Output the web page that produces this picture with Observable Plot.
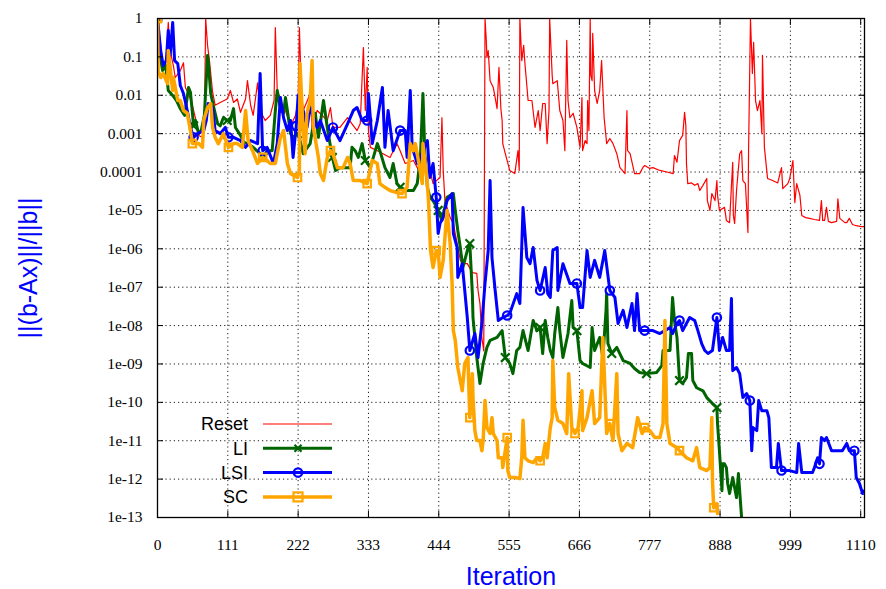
<!DOCTYPE html>
<html><head><meta charset="utf-8">
<script src="https://cdn.jsdelivr.net/npm/d3@7"></script>
<script src="https://cdn.jsdelivr.net/npm/@observablehq/plot@0.6"></script>
<style>body{margin:0;background:#fff;} #chart{width:886px;height:589px;}</style>
</head><body><div id="chart"></div>
<script>
const xTicks = [0,111,222,333,444,555,666,777,888,999,1110];
const xTickLabels = ["0","111","222","333","444","555","666","777","888","999","1110"];
const yTicks = [1,0.1,0.01,0.001,0.0001,1e-5,1e-6,1e-7,1e-8,1e-9,1e-10,1e-11,1e-12,1e-13];
const yTickLabels = ["1","0.1","0.01","0.001","0.0001","1e-05","1e-06","1e-07","1e-08","1e-09","1e-10","1e-11","1e-12","1e-13"];
const seriesNames = ["Reset","LI","LSI","SC"];
const xLabel = "Iteration";
const yLabel = "||(b-Ax)||/||b||";

// [iteration, residual]
const resetPts = [[0,1],[5,0.2],[9,0.044],[14,0.11],[17,0.79],[20,0.146],[25,0.06],[28,0.029],[36,0.044],[41,0.07],[44,0.016],[49,0.011],[55,0.0055],[60,0.0025],[65,0.0009],[71,0.0008],[74,0.0012],[76,1],[79,0.2],[82,0.08],[87,0.012],[91,0.0055],[99,0.0065],[110,0.008],[115,0.0133],[120,0.0065],[126,0.008],[131,0.0036],[139,0.008],[142,0.024],[147,0.0055],[151,0.003],[158,0.021],[162,0.004],[170,0.0022],[178,0.003],[184,0.0073],[186,0.58],[189,0.0133],[194,0.0036],[202,0.004],[210,0.0016],[218,0.003],[222,0.0073],[224,0.58],[227,0.0133],[230,0.004],[241,0.011],[244,0.00145],[252,0.004],[268,0.0022],[273,0.0048],[277,0.00145],[288,0.00145],[300,0.0026],[307,0.0018],[315,0.0012],[320,0.0018],[325,0.175],[328,0.004],[331,0.053],[333,0.0012],[336,0.00044],[347,0.00036],[356,0.0003],[367,0.00024],[378,0.00055],[383,0.00036],[391,0.000167],[404,0.0002],[415,9.1e-5],[426,0.00024],[430,0.00011],[435,5e-5],[446,7.2e-5],[449,0.0026],[451,0.00011],[454,1.5e-5],[457,1.2e-5],[462,6.5e-6],[467,4.6e-6],[473,1.37e-6],[478,5e-7],[482,4.1e-7],[489,4.1e-7],[497,2.4e-7],[504,2.3e-7],[506,8.2e-8],[509,3.75e-8],[512,4.9e-9],[515,2.2e-9],[517,1],[519,0.27],[520,0.096],[522,0.146],[525,0.024],[530,0.016],[533,0.0087],[536,0.0045],[539,0.053],[542,0.0045],[544,0.0022],[545,0.00055],[549,0.0003],[556,0.00011],[564,9.1e-5],[569,0.00036],[571,0.00011],[572,1],[575,0.08],[578,0.2],[580,0.067],[585,0.0073],[591,0.0073],[596,0.00145],[601,0.004],[604,0.0012],[608,0.0061],[612,0.0061],[615,0.00055],[618,0.004],[619,1],[623,0.033],[624,0.02],[631,0.024],[635,0.004],[640,0.0022],[643,0.00036],[646,0.27],[648,0.0073],[651,0.0026],[656,0.0034],[662,0.00145],[667,0.00044],[670,0.0087],[671,0.00036],[675,0.00066],[678,0.00055],[679,0.0073],[681,0.0012],[683,1],[684,0.033],[686,0.024],[687,0.41],[690,0.0133],[694,0.0061],[698,0.0133],[701,0.08],[705,0.0026],[709,0.00055],[714,0.00075],[719,0.00055],[725,0.0003],[730,0.00013],[738,9.1e-5],[741,0.004],[742,0.00036],[746,0.0003],[753,9.1e-5],[761,9.1e-5],[766,0.00013],[769,0.000148],[777,0.000124],[782,0.00013],[793,0.00011],[804,0.0001],[814,9.1e-5],[816,0.00027],[820,0.00018],[824,0.00066],[829,0.0009],[832,0.0036],[834,0.0016],[835,0.000167],[837,5e-5],[843,5.2e-5],[848,4.5e-5],[853,5e-5],[856,3.3e-5],[861,4.5e-5],[867,6.8e-5],[868,1.8e-5],[872,1e-5],[875,2.75e-5],[880,1.8e-5],[883,6e-5],[884,2.5e-5],[887,1e-5],[895,1.2e-5],[898,5.5e-6],[903,4.8e-6],[906,4.5e-5],[908,0.00018],[909,7.4e-6],[911,4.6e-6],[914,3.3e-5],[916,8.1e-5],[919,0.0003],[922,0.00036],[924,6e-5],[928,5e-5],[932,2.65e-6],[933,0.00036],[936,1],[939,0.037],[941,0.24],[944,0.0073],[947,0.004],[951,0.0073],[954,0.001],[955,0.109],[958,0.00044],[963,6.8e-5],[971,6e-5],[979,5.2e-5],[985,0.00013],[987,3.7e-5],[995,5e-5],[998,6.8e-5],[1003,0.0002],[1006,1.6e-5],[1009,5e-5],[1014,2.5e-5],[1017,7.4e-6],[1023,6.5e-6],[1029,6.2e-6],[1037,5.8e-6],[1045,5.5e-6],[1048,1.8e-5],[1050,5.5e-6],[1053,5.5e-6],[1056,1.2e-5],[1059,5.2e-6],[1064,4.8e-6],[1072,5.2e-6],[1074,2e-5],[1077,6.2e-6],[1085,4.8e-6],[1088,4.8e-6],[1092,6.2e-6],[1097,4.3e-6],[1103,4e-6],[1111,3.8e-6],[1116,3.8e-6]];

const liPts = [[0,1],[3,0.146],[8,0.044],[13,0.06],[17,0.0133],[24,0.0099],[30,0.0073],[36,0.0045],[43,0.003],[49,0.016],[52,0.012],[57,0.0016],[60,0.0022],[65,0.001],[69,0.0012],[74,0.003],[79,0.109],[80,0.08],[84,0.0111],[88,0.0055],[95,0.0018],[99,0.0016],[104,0.0026],[110,0.0022],[115,0.0022],[120,0.0045],[123,0.00145],[131,0.0009],[136,0.0006],[142,0.00055],[151,0.00044],[162,0.0003],[167,0.00024],[173,0.00036],[181,0.00036],[186,0.004],[189,0.0133],[194,0.0048],[199,0.0034],[202,0.0087],[205,0.004],[210,0.001],[214,0.0008],[221,0.001],[225,0.00066],[230,0.0003],[233,0.00036],[241,0.00055],[249,0.0034],[254,0.0008],[262,0.0073],[268,0.00145],[276,0.00024],[281,0.00011],[288,0.00013],[304,0.00013],[307,0.00044],[312,0.00036],[317,0.00024],[323,0.00055],[328,0.0002],[336,0.00013],[347,0.00055],[351,0.00036],[359,0.00013],[367,7.2e-5],[372,0.000167],[378,5e-5],[383,4e-5],[394,3.3e-5],[404,3.3e-5],[410,5e-5],[415,0.00024],[419,0.0111],[422,0.0003],[426,4e-5],[430,2.2e-5],[435,1.8e-5],[443,1e-5],[449,5.5e-6],[457,2.2e-5],[467,2.75e-5],[470,1e-5],[474,3e-6],[478,1.08e-6],[482,3.25e-7],[489,9e-7],[493,1.37e-6],[497,6.8e-8],[498,1.62e-8],[504,1.47e-9],[509,3.1e-10],[514,1.03e-9],[520,2.7e-9],[525,4.1e-9],[536,4.9e-9],[544,7.4e-9],[549,1.47e-9],[556,1.03e-9],[561,5.6e-10],[567,2.24e-9],[572,2.7e-9],[577,7.4e-9],[585,2.24e-9],[593,1.35e-8],[599,7.4e-9],[604,8.9e-9],[608,1.87e-9],[612,1.35e-8],[616,4.9e-9],[620,2.24e-9],[624,1.47e-9],[627,6.2e-9],[632,2.95e-8],[635,7.4e-9],[640,1.47e-9],[648,6.2e-9],[654,4.5e-8],[656,8.9e-9],[662,7.4e-9],[667,1.23e-9],[671,1.03e-9],[683,8.1e-10],[686,8.9e-9],[690,2.24e-9],[698,4.9e-9],[703,1.47e-9],[708,2.5e-8],[709,6.8e-8],[711,3.4e-9],[717,1.87e-9],[725,2.7e-9],[735,1.23e-9],[746,1.03e-9],[753,7.6e-10],[761,6e-10],[772,5.6e-10],[788,6e-10],[796,9.1e-10],[798,2.24e-9],[809,2.24e-9],[813,5.4e-8],[816,1.35e-8],[820,4.9e-9],[824,3.7e-10],[829,3.1e-10],[835,4.4e-10],[838,1.87e-9],[843,1.87e-9],[845,3.7e-10],[851,2.4e-10],[861,2e-10],[867,1.33e-10],[876,9.3e-11],[883,7.3e-11],[884,2.8e-11],[887,5.5e-12],[891,5e-13],[892,2.5e-12],[895,2.5e-12],[898,2e-12],[900,7.7e-13],[903,4.2e-13],[908,1.1e-12],[914,3.3e-13],[917,1.4e-12],[922,1e-13]];

const lsiPts = [[0,1],[5,0.146],[9,0.06],[14,0.08],[17,0.49],[20,0.109],[24,0.79],[27,0.08],[32,0.067],[36,0.018],[41,0.0111],[47,0.004],[52,0.00145],[57,0.0008],[63,0.001],[73,0.0012],[77,0.0022],[80,0.0061],[87,0.0048],[91,0.0012],[99,0.001],[107,0.00145],[112,0.0008],[120,0.0008],[131,0.00066],[139,0.00044],[147,0.00066],[158,0.00055],[162,0.037],[166,0.00036],[173,0.00044],[183,0.000167],[189,0.00055],[194,0.0087],[199,0.0026],[205,0.0012],[210,0.0022],[214,0.00024],[219,0.0016],[222,0.0099],[225,0.004],[230,0.004],[236,0.00145],[241,0.0048],[252,0.00145],[257,0.0022],[268,0.00066],[277,0.00145],[288,0.00066],[300,0.0018],[309,0.004],[315,0.0048],[323,0.0022],[331,0.0022],[333,0.0111],[339,0.00055],[347,0.0022],[355,0.016],[359,0.00044],[364,0.004],[372,0.00036],[383,0.0012],[391,0.0012],[394,0.00024],[399,0.0133],[402,0.00044],[410,0.000167],[415,0.00024],[426,0.00066],[430,7.2e-5],[435,0.000167],[440,2.2e-5],[443,2.5e-6],[446,4.6e-6],[451,6.5e-6],[457,1.8e-5],[465,2.75e-5],[467,2.5e-6],[473,1.08e-6],[474,1.8e-7],[481,4.1e-7],[485,8.2e-8],[489,1.62e-8],[493,2.24e-9],[501,6.2e-9],[506,1.47e-9],[512,1.13e-8],[517,1.25e-7],[522,9e-7],[525,6e-5],[528,5.9e-7],[533,8.2e-8],[538,1.35e-8],[545,1.62e-8],[552,1.83e-8],[556,2.06e-8],[567,6.8e-8],[572,3.75e-8],[577,1.19e-5],[583,5.9e-7],[588,4.1e-7],[593,1.08e-6],[599,1.5e-7],[604,8.2e-8],[612,3.25e-7],[616,6.8e-8],[620,5.4e-8],[624,9e-7],[631,1.08e-6],[632,8.2e-8],[640,4.1e-7],[651,1.25e-7],[662,1.25e-7],[667,2.95e-8],[671,2.95e-8],[678,9e-7],[683,1.8e-7],[690,5e-7],[698,1.8e-7],[706,9e-7],[714,8.2e-8],[722,5.4e-8],[727,1.13e-8],[735,2.5e-8],[741,8.9e-9],[749,3.75e-8],[753,7.4e-9],[757,6.8e-8],[761,7.4e-9],[769,7.4e-9],[782,7.4e-9],[793,6.2e-9],[801,7.4e-9],[809,8.9e-9],[813,6.2e-9],[820,1.13e-8],[824,1.35e-8],[829,7.4e-9],[840,1.62e-8],[848,1.35e-8],[853,7.4e-9],[859,3.4e-9],[864,2.24e-9],[869,1.87e-9],[876,2.24e-9],[883,1.62e-8],[887,2.24e-9],[892,4.9e-9],[898,2.24e-9],[903,2.24e-9],[906,5.1e-8],[908,6.7e-10],[914,8.1e-10],[919,5.6e-10],[924,1.33e-10],[930,1.7e-10],[935,1.11e-10],[938,5.5e-12],[940,2.2e-11],[946,1.84e-11],[949,1.11e-10],[954,6e-11],[962,6e-11],[965,4e-11],[969,2e-12],[977,2e-12],[980,8.5e-12],[985,1.67e-12],[998,1.67e-12],[1009,1.48e-12],[1012,8.5e-12],[1017,1.48e-12],[1034,1.48e-12],[1037,2e-12],[1042,3.6e-12],[1045,2.5e-12],[1048,1.21e-11],[1053,1.01e-11],[1056,1.21e-11],[1064,5.5e-12],[1081,5.5e-12],[1088,8.5e-12],[1092,5.5e-12],[1100,5.5e-12],[1103,1.1e-12],[1108,7.7e-13],[1113,4.2e-13],[1116,5e-13]];

const scPts = [[0,1],[1,0.044],[5,0.029],[9,0.037],[16,0.02],[17,0.146],[24,0.0133],[25,0.029],[32,0.0073],[36,0.0073],[41,0.004],[47,0.0034],[52,0.0012],[55,0.00055],[65,0.00055],[71,0.00044],[73,0.0022],[79,0.0048],[84,0.0061],[87,0.00145],[91,0.0008],[96,0.00055],[104,0.001],[112,0.00044],[120,0.00055],[126,0.00055],[134,0.00044],[139,0.004],[143,0.00066],[150,0.00036],[158,0.000167],[166,0.00024],[173,0.0002],[178,0.000167],[186,0.000167],[194,0.0008],[199,0.0012],[205,0.000167],[210,9.1e-5],[221,7.2e-5],[224,0.00011],[225,0.067],[229,0.0022],[233,0.0003],[236,0.0034],[241,0.0073],[244,0.08],[246,0.00145],[254,0.00024],[257,9.1e-5],[262,6e-5],[268,0.00024],[273,0.00036],[277,0.0003],[284,0.00013],[293,0.00013],[300,0.00024],[304,0.000167],[309,6e-5],[320,6e-5],[331,5e-5],[339,0.0002],[347,0.000167],[351,5e-5],[359,4e-5],[367,3.3e-5],[378,2.9e-5],[386,2.75e-5],[394,4e-5],[399,0.00055],[404,0.00036],[407,0.00055],[411,0.00024],[418,5e-5],[419,0.00055],[426,5e-5],[428,1.5e-5],[431,9e-7],[435,3.25e-7],[440,9e-7],[443,9e-7],[446,1.8e-7],[451,5e-7],[457,1e-5],[462,1.37e-6],[465,1.25e-7],[467,7.4e-9],[470,4.1e-9],[474,8.1e-10],[481,2e-10],[485,1.03e-9],[490,1.47e-9],[493,4e-11],[497,5.6e-10],[498,1.33e-10],[501,1.84e-11],[504,1.01e-11],[509,1.01e-11],[512,5.5e-12],[514,1.01e-11],[517,1.11e-10],[520,2.2e-11],[525,1.54e-11],[528,4e-11],[530,1.54e-11],[536,1.01e-11],[538,3.6e-12],[544,3.6e-12],[545,2e-12],[552,1.21e-11],[553,1.67e-12],[556,1.1e-12],[564,1.1e-12],[572,1.03e-12],[575,3.6e-12],[577,3.4e-11],[580,3.6e-12],[585,3e-12],[593,2.7e-12],[599,3.6e-12],[604,3e-12],[608,3.6e-12],[612,8.5e-12],[615,3.6e-12],[620,2.2e-11],[623,4e-11],[624,1.23e-9],[627,7.3e-11],[632,3.4e-11],[640,2.8e-11],[646,1.54e-11],[649,5.6e-10],[654,2.2e-11],[659,1.54e-11],[664,2.2e-11],[670,2e-10],[671,1.84e-11],[678,4e-11],[686,2e-10],[690,2.8e-11],[698,4e-11],[703,4.9e-9],[709,1.54e-11],[714,2.8e-11],[719,1.01e-11],[725,5.6e-10],[727,1.54e-11],[733,5.5e-12],[741,8.5e-12],[750,6.6e-12],[758,4e-11],[765,1.54e-11],[769,2.2e-11],[777,1.84e-11],[785,1.21e-11],[793,1.21e-11],[798,2.8e-11],[801,1.35e-8],[804,2.8e-11],[809,8.5e-12],[820,6.6e-12],[824,5.5e-12],[835,3.6e-12],[845,3e-12],[851,6.6e-12],[856,2e-12],[867,1.67e-12],[872,2e-12],[875,4e-11],[876,9.2e-13],[878,1.8e-13],[883,2.3e-13],[884,1.27e-13]];

// point markers every 55 iterations (gnuplot pointinterval style), snapped to the nearest read point
function markerPoints(pts, step) {
  const out = [];
  const last = pts[pts.length - 1][0];
  for (let k = 0; k <= last; k += step) {
    let best = pts[0];
    for (const p of pts) if (Math.abs(p[0] - k) < Math.abs(best[0] - k)) best = p;
    out.push(best);
  }
  return out;
}

const series = [
  {name: seriesNames[0], pts: resetPts, color: "#ff0000", width: 1.2, symbol: null},
  {name: seriesNames[1], pts: liPts, color: "#006400", width: 3, symbol: "times"},
  {name: seriesNames[2], pts: lsiPts, color: "#0000ff", width: 3, symbol: "circle"},
  {name: seriesNames[3], pts: scPts, color: "#ffa500", width: 3.5, symbol: "square"}
];

const marks = [
  Plot.gridY(yTicks, {stroke: "black", strokeOpacity: 1, strokeWidth: 0.9, strokeDasharray: "1.2,3"}),
  Plot.gridX(xTicks, {stroke: "black", strokeOpacity: 1, strokeWidth: 0.9, strokeDasharray: "1.2,3"}),
];
for (const s of series) {
  marks.push(Plot.line(s.pts, {x: d => d[0], y: d => d[1], stroke: s.color, strokeWidth: s.width, clip: true}));
  if (s.symbol) {
    marks.push(Plot.dot(markerPoints(s.pts, 55), {x: d => d[0], y: d => d[1], symbol: s.symbol, r: s.symbol === "times" ? 4 : 4.2,
      stroke: s.color, strokeWidth: 2.2, fill: "none", clip: true}));
  }
}
marks.push(
  Plot.frame({stroke: "black", strokeWidth: 1.3}),
  Plot.axisY({ticks: yTicks, anchor: "left", tickSize: -6, tickPadding: 21, label: null, fontSize: 15.5,
    tickFormat: d => yTickLabels[yTicks.indexOf(d)]}),
  Plot.axisY({ticks: yTicks, anchor: "right", tickSize: -6, label: null, tickFormat: () => ""}),
  Plot.axisX({ticks: xTicks, anchor: "bottom", tickSize: -6, tickPadding: 27, label: null, fontSize: 15.5,
    tickFormat: d => xTickLabels[xTicks.indexOf(d)]}),
  Plot.axisX({ticks: xTicks, anchor: "top", tickSize: -6, label: null, tickFormat: () => ""})
);

const chart = Plot.plot({
  width: 886, height: 589,
  marginLeft: 157, marginRight: 22, marginTop: 18, marginBottom: 72,
  x: {domain: [0, 1116]},
  y: {type: "log", domain: [1e-13, 1]},
  style: {fontFamily: "'Liberation Serif', 'Times New Roman', serif", fontSize: "15px", color: "black", background: "white"},
  marks
});
document.getElementById("chart").appendChild(chart);

const svg = d3.select(chart);
const sans = "'Liberation Sans', Arial, sans-serif";
svg.append("text").attr("x", 511).attr("y", 585).attr("text-anchor", "middle")
  .attr("font-family", sans).attr("font-size", 25).attr("fill", "#0000ff").text(xLabel);
svg.append("text").attr("transform", "translate(37,268) rotate(-90)").attr("text-anchor", "middle")
  .attr("font-family", sans).attr("font-size", 25).attr("fill", "#0000ff").text(yLabel);

const lg = svg.append("g").attr("font-family", sans).attr("font-size", 18);
series.forEach((s, i) => {
  const y = 424 + i * 24.3;
  lg.append("text").attr("x", 248).attr("y", y).attr("dy", "0.36em").attr("text-anchor", "end").attr("fill", "black").text(s.name);
  lg.append("line").attr("x1", 263).attr("x2", 332).attr("y1", y).attr("y2", y).attr("stroke", s.color).attr("stroke-width", s.width);
  const m = 298;
  if (s.symbol === "times") {
    lg.append("path").attr("d", `M${m-3.5},${y-3.5}L${m+3.5},${y+3.5}M${m-3.5},${y+3.5}L${m+3.5},${y-3.5}`).attr("stroke", s.color).attr("stroke-width", 2.2);
  } else if (s.symbol === "circle") {
    lg.append("circle").attr("cx", m).attr("cy", y).attr("r", 4.2).attr("fill", "none").attr("stroke", s.color).attr("stroke-width", 2.2);
  } else if (s.symbol === "square") {
    lg.append("rect").attr("x", m - 4.5).attr("y", y - 4.5).attr("width", 9).attr("height", 9).attr("fill", "none").attr("stroke", s.color).attr("stroke-width", 2.2);
  }
});
</script></body></html>
